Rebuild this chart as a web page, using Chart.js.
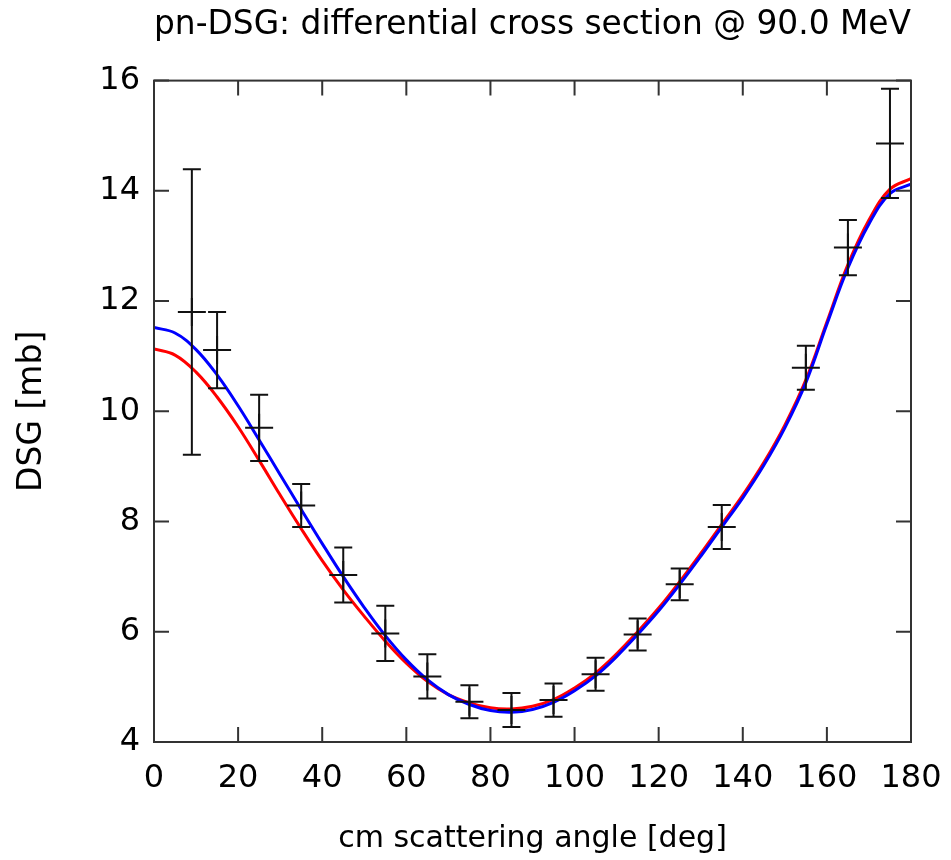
<!DOCTYPE html>
<html>
<head>
<meta charset="utf-8">
<title>pn-DSG: differential cross section @ 90.0 MeV</title>
<script src="https://cdn.jsdelivr.net/npm/chart.js@4.4.1/dist/chart.umd.min.js"></script>
<style>
  html, body { margin: 0; padding: 0; background: #fff; }
  #wrap { width: 951px; height: 860px; }
</style>
</head>
<body>
<div id="wrap"><canvas id="dsgChart" width="951" height="860"></canvas></div>
<script>
// Measured points with errors
const dataAngles = [9, 15, 25, 35, 45, 55, 65, 75, 85, 95, 105, 115, 125, 135, 155, 165, 175];
const dataValues = [11.80, 11.11, 9.70, 8.29, 7.03, 5.97, 5.19, 4.73, 4.58, 4.76, 5.23, 5.95, 6.86, 7.90, 10.79, 12.97, 14.86];
const dataErrors = [2.59, 0.69, 0.60, 0.39, 0.50, 0.50, 0.40, 0.30, 0.31, 0.30, 0.30, 0.29, 0.29, 0.40, 0.40, 0.50, 0.99];

// Model curves
const curveAngles = [0, 5, 10, 15, 20, 25, 30, 35, 40, 45, 50, 55, 60, 65, 70, 75, 80, 85, 90,
  95, 100, 105, 110, 115, 120, 125, 130, 135, 140, 145, 150, 155, 160, 165, 170, 175, 180];
const redCurve = [11.13, 11.02, 10.71, 10.26, 9.72, 9.11, 8.48, 7.87, 7.29, 6.76, 6.28, 5.83, 5.43,
  5.10, 4.86, 4.71, 4.62, 4.60, 4.65, 4.77, 4.98, 5.25, 5.60, 6.00, 6.43, 6.91, 7.42, 7.95, 8.48,
  9.07, 9.75, 10.57, 11.62, 12.66, 13.47, 14.03, 14.22];
const blueCurve = [11.52, 11.42, 11.12, 10.66, 10.10, 9.48, 8.85, 8.22, 7.60, 7.00, 6.44, 5.93, 5.49,
  5.13, 4.86, 4.68, 4.57, 4.54, 4.59, 4.72, 4.93, 5.20, 5.55, 5.95, 6.38, 6.86, 7.37, 7.90, 8.43,
  9.02, 9.70, 10.52, 11.58, 12.60, 13.40, 13.95, 14.12];

const xTicks = [0, 20, 40, 60, 80, 100, 120, 140, 160, 180];
const yTicks = [4, 6, 8, 10, 12, 14, 16];

const FONT = "'DejaVu Sans', sans-serif";

// Error bars: vertical line with caps
const errorBarPlugin = {
  id: "errorBars",
  afterDatasetsDraw(chart) {
    const { ctx, scales } = chart;
    const cap = 9;
    ctx.save();
    ctx.strokeStyle = "#111";
    ctx.lineWidth = 2;
    dataAngles.forEach((a, i) => {
      const x = scales.x.getPixelForValue(a);
      const yTop = scales.y.getPixelForValue(dataValues[i] + dataErrors[i]);
      const yBot = scales.y.getPixelForValue(dataValues[i] - dataErrors[i]);
      ctx.beginPath();
      ctx.moveTo(x, yTop);
      ctx.lineTo(x, yBot);
      ctx.moveTo(x - cap, yTop);
      ctx.lineTo(x + cap, yTop);
      ctx.moveTo(x - cap, yBot);
      ctx.lineTo(x + cap, yBot);
      ctx.stroke();
    });
    ctx.restore();
  },
};

// gnuplot-style frame with inward ticks on all four sides
const framePlugin = {
  id: "frame",
  afterDraw(chart) {
    const { ctx, chartArea: a, scales } = chart;
    const len = 15;
    ctx.save();
    ctx.strokeStyle = "#333";
    ctx.lineWidth = 2;
    ctx.beginPath();
    xTicks.forEach((v) => {
      const x = scales.x.getPixelForValue(v);
      ctx.moveTo(x, a.bottom);
      ctx.lineTo(x, a.bottom - len);
      ctx.moveTo(x, a.top);
      ctx.lineTo(x, a.top + len);
    });
    yTicks.forEach((v) => {
      const y = scales.y.getPixelForValue(v);
      ctx.moveTo(a.left, y);
      ctx.lineTo(a.left + len, y);
      ctx.moveTo(a.right, y);
      ctx.lineTo(a.right - len, y);
    });
    ctx.stroke();
    ctx.strokeRect(a.left, a.top, a.right - a.left, a.bottom - a.top);
    ctx.restore();
  },
};

const ctx = document.getElementById("dsgChart");

new Chart(ctx, {
  type: "line",
  data: {
    datasets: [
      {
        label: "data",
        type: "scatter",
        data: dataAngles.map((a, i) => ({ x: a, y: dataValues[i] })),
        pointStyle: "cross",
        pointRadius: 14,
        pointHoverRadius: 14,
        borderColor: "#111",
        borderWidth: 2,
        showLine: false,
        order: 0,
      },
      {
        label: "blue",
        data: curveAngles.map((a, i) => ({ x: a, y: blueCurve[i] })),
        borderColor: "#0000ff",
        borderWidth: 3,
        pointRadius: 0,
        tension: 0.4,
        order: 1,
      },
      {
        label: "red",
        data: curveAngles.map((a, i) => ({ x: a, y: redCurve[i] })),
        borderColor: "#ff0000",
        borderWidth: 3,
        pointRadius: 0,
        tension: 0.4,
        order: 2,
      },
    ],
  },
  options: {
    responsive: false,
    animation: false,
    layout: {
      padding: { left: 0, right: 40, top: 0, bottom: 0 },
    },
    plugins: {
      legend: { display: false },
      tooltip: { enabled: false },
      title: {
        display: true,
        fullSize: false,
        text: "pn-DSG: differential cross section @ 90.0 MeV",
        color: "#000",
        font: { family: FONT, size: 33, weight: "normal", lineHeight: 1.2 },
        padding: { top: 6, bottom: 35 },
      },
    },
    scales: {
      x: {
        type: "linear",
        min: 0,
        max: 180,
        afterBuildTicks: (scale) => {
          scale.ticks = xTicks.map((v) => ({ value: v }));
        },
        afterFit: (scale) => {
          scale.height = 118;
          scale.paddingLeft = 0;
          scale.paddingRight = 0;
        },
        grid: { display: false, drawTicks: false },
        border: { display: false },
        ticks: {
          color: "#000",
          padding: 17,
          maxRotation: 0,
          autoSkip: false,
          font: { family: FONT, size: 32, lineHeight: 1.2 },
        },
        title: {
          display: true,
          text: "cm scattering angle [deg]",
          color: "#000",
          font: { family: FONT, size: 30, lineHeight: 1.2 },
          padding: { top: 0, bottom: 3 },
        },
      },
      y: {
        type: "linear",
        min: 4,
        max: 16,
        afterBuildTicks: (scale) => {
          scale.ticks = yTicks.map((v) => ({ value: v }));
        },
        afterFit: (scale) => {
          scale.width = 154;
          scale.paddingTop = 0;
          scale.paddingBottom = 0;
        },
        grid: { display: false, drawTicks: false },
        border: { display: false },
        ticks: {
          color: "#000",
          padding: 14,
          autoSkip: false,
          font: { family: FONT, size: 32, lineHeight: 1.2 },
        },
        title: {
          display: true,
          text: "DSG [mb]",
          color: "#000",
          font: { family: FONT, size: 33, lineHeight: 1 },
          padding: { top: 16, bottom: 0 },
        },
      },
    },
  },
  plugins: [errorBarPlugin, framePlugin],
});
</script>
</body>
</html>
